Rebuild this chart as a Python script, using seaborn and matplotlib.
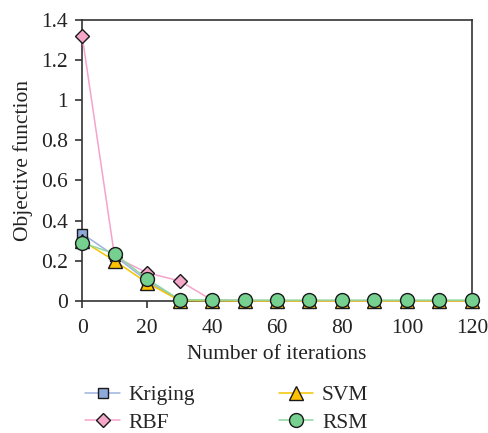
import matplotlib
matplotlib.use("Agg")
import matplotlib.pyplot as plt
import pandas as pd
import seaborn as sns

iterations = [0, 10, 20, 30, 40, 50, 60, 70, 80, 90, 100, 110, 120]
kriging = [0.335, 0.225, 0.10, 0.004, 0.002, 0.001, 0, 0, 0, 0, 0, 0, 0]
rbf = [1.32, 0.22, 0.14, 0.10, 0.004, 0.002, 0.001, 0, 0, 0, 0, 0, 0]
svm = [0.30, 0.20, 0.09, 0.002, 0.001, 0, 0, 0, 0, 0, 0, 0, 0]
rsm = [0.29, 0.235, 0.11, 0.006, 0.005, 0.004, 0.004, 0.004, 0.004, 0.004, 0.004, 0.004, 0.004]

series = ["Kriging", "RBF", "SVM", "RSM"]
line_colors = ["#9db3e0", "#f5a3cc", "#f5c400", "#8fd6a0"]
face_colors = ["#8eaadb", "#f4a7c9", "#ffc000", "#76d08f"]
markers = ["s", "D", "^", "o"]
sizes = [7, 7.5, 9.5, 10]

sns.set_theme(style="ticks")
plt.rcParams["font.family"] = ["Liberation Serif", "DejaVu Serif"]

df = pd.DataFrame({"iter": iterations, "Kriging": kriging, "RBF": rbf,
                   "SVM": svm, "RSM": rsm})
long = df.melt(id_vars="iter", var_name="model", value_name="obj")

fig = plt.figure(figsize=(4.89, 4.33), dpi=100)
ax = fig.add_axes([0.168, 0.305, 0.797, 0.649])

for name, lc, fc, mk, ms in zip(series, line_colors, face_colors, markers, sizes):
    sub = long[long["model"] == name]
    sns.lineplot(data=sub, x="iter", y="obj", ax=ax, color=lc, lw=1.1,
                 marker=mk, markersize=ms, markerfacecolor=fc,
                 markeredgecolor="#1a1a1a", markeredgewidth=1.0,
                 label=name, legend=False, clip_on=False, zorder=3)

ax.set_xlim(0, 120)
ax.set_ylim(0, 1.4)
ax.set_xticks(range(0, 121, 20))
ax.set_yticks([0, 0.2, 0.4, 0.6, 0.8, 1.0, 1.2, 1.4])
ax.set_yticklabels(["0", "0.2", "0.4", "0.6", "0.8", "1", "1.2", "1.4"])
ax.tick_params(labelsize=15.5, direction="out", length=5, width=1.2, color="#333333",
               labelcolor="#222222")
ax.tick_params(axis="x", pad=8)
ax.tick_params(axis="y", pad=5)
for sp in ax.spines.values():
    sp.set_visible(True)
    sp.set_color("#333333")
    sp.set_linewidth(1.2)
ax.set_xlabel("Number of iterations", fontsize=15.5, color="#222222", labelpad=5)
ax.set_ylabel("Objective function", fontsize=15.5, color="#222222", labelpad=6)

h, l = ax.get_legend_handles_labels()
fig.legend(h, l, ncol=2, frameon=False, fontsize=15.5, loc="center left",
           bbox_to_anchor=(0.135, 0.055), columnspacing=3.9, handlelength=1.6,
           handletextpad=0.4, labelspacing=0.35)

fig.savefig("out.png", dpi=100)
